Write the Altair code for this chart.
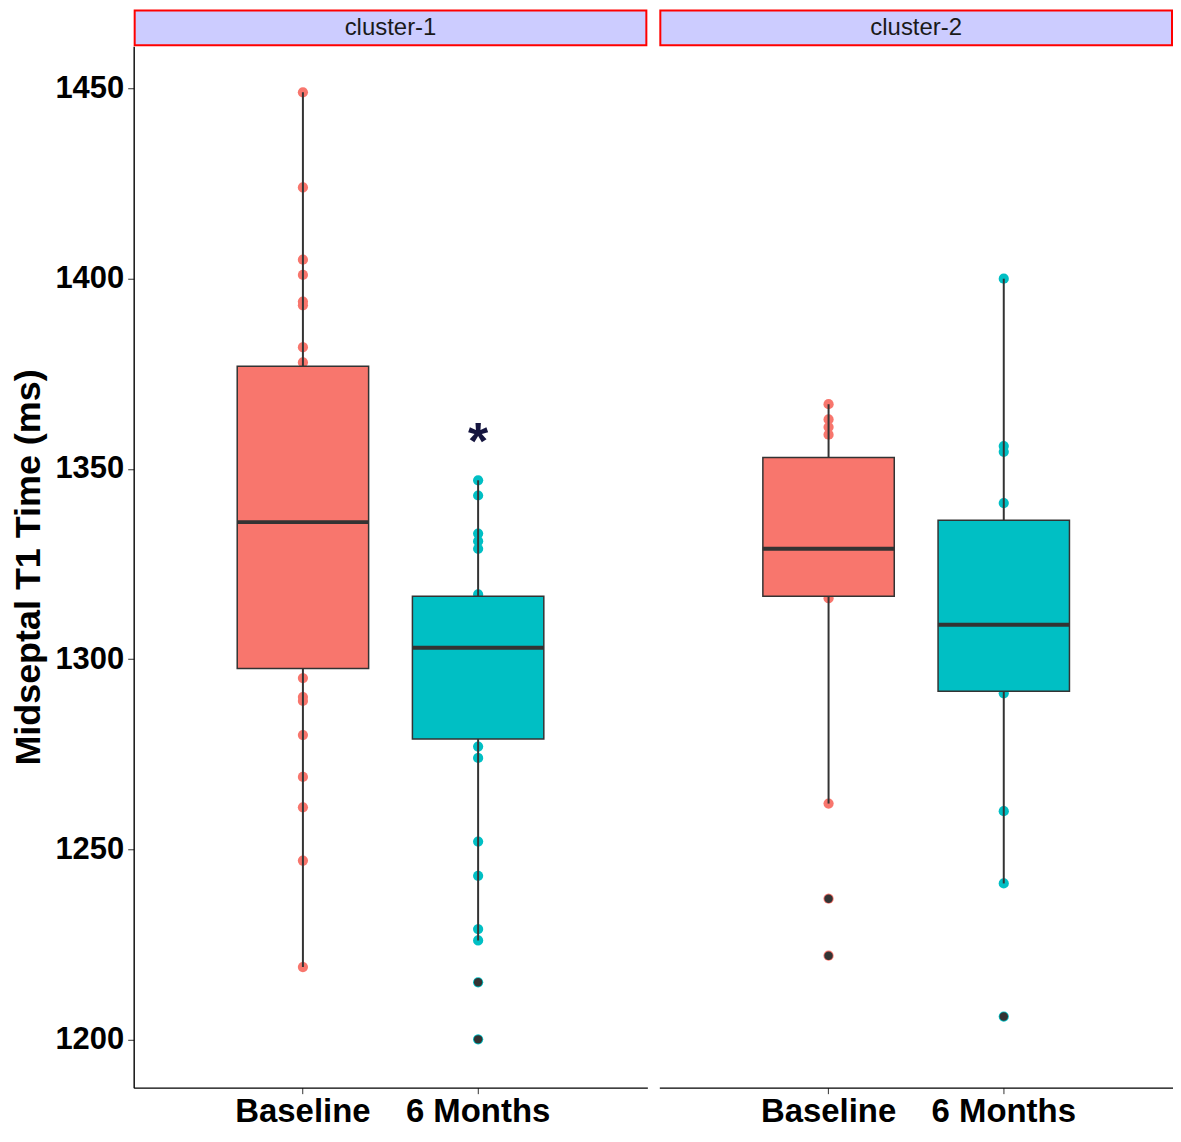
import altair as alt
import pandas as pd

FONT = "Liberation Sans"

clusters = ["cluster-1", "cluster-2"]
times = ["Baseline", "6 Months"]
fill_colors = ["#F8766D", "#00BFC4"]

# box summary statistics
box_cluster = ["cluster-1", "cluster-1", "cluster-2", "cluster-2"]
box_time = ["Baseline", "6 Months", "Baseline", "6 Months"]
box_lower = [1219, 1226, 1262, 1241]
box_q1 = [1297.5, 1279, 1316.5, 1291.5]
box_median = [1336, 1303, 1329, 1309]
box_q3 = [1377, 1316.5, 1353, 1336.5]
box_upper = [1449, 1347, 1367, 1400]

# individual observations
c1_baseline = [1449, 1424, 1405, 1401, 1394, 1393, 1382, 1378,
               1295, 1290, 1289, 1280, 1269, 1261, 1247, 1219]
c1_6months = [1347, 1343, 1333, 1331, 1329, 1317, 1277, 1274,
              1252, 1243, 1229, 1226, 1215, 1200]
c2_baseline = [1367, 1363, 1361, 1359, 1316, 1262, 1237, 1222]
c2_6months = [1400, 1356, 1354.5, 1341, 1291, 1260, 1241, 1206]

# boxplot outliers
out_cluster = ["cluster-1", "cluster-1", "cluster-2", "cluster-2", "cluster-2"]
out_time = ["6 Months", "6 Months", "Baseline", "Baseline", "6 Months"]
out_value = [1215, 1200, 1237, 1222, 1206]

# significance marker
star_cluster = ["cluster-1"]
star_time = ["6 Months"]
star_value = [1352.5]

y_domain = [1187.3, 1461.1]
y_ticks = [1200, 1250, 1300, 1350, 1400, 1450]

PW = 515
PH = 1044

boxes = pd.DataFrame({"cluster": box_cluster, "time": box_time, "lower": box_lower,
                      "q1": box_q1, "median": box_median, "q3": box_q3, "upper": box_upper})
rows = []
for cl, tm, vals in [("cluster-1", "Baseline", c1_baseline), ("cluster-1", "6 Months", c1_6months),
                     ("cluster-2", "Baseline", c2_baseline), ("cluster-2", "6 Months", c2_6months)]:
    for v in vals:
        rows.append({"cluster": cl, "time": tm, "value": v})
points = pd.DataFrame(rows)
outliers = pd.DataFrame({"cluster": out_cluster, "time": out_time, "value": out_value})
stars = pd.DataFrame({"cluster": star_cluster, "time": star_time, "value": star_value, "label": ["*"]})

color_scale = alt.Scale(domain=times, range=fill_colors)
x_scale = alt.Scale(domain=times, paddingInner=0, paddingOuter=0.466)
y_scale = alt.Scale(domain=y_domain, nice=False, zero=False)


def panel(cl, show_y):
    x_enc = alt.X("time:N", scale=x_scale, sort=times,
                  axis=alt.Axis(title=None, labelAngle=0, labelFont=FONT, labelFontSize=33,
                                labelFontWeight="bold", labelColor="black", labelPadding=2,
                                tickSize=6, tickColor="#333333", domainColor="black",
                                domainWidth=1.4))
    if show_y:
        y_axis = alt.Axis(title="Midseptal T1 Time (ms)", values=y_ticks, format="d", grid=False,
                          labelFont=FONT, labelFontSize=31, labelFontWeight="bold",
                          labelColor="black", labelPadding=4, tickSize=6, tickColor="#333333",
                          domainColor="black", domainWidth=1.4, titleFont=FONT,
                          titleFontSize=36, titleFontWeight="bold", titleColor="black",
                          titlePadding=7)
    else:
        y_axis = None

    pts = alt.Chart(points[points.cluster == cl]).mark_circle(size=105, opacity=1).encode(
        x=x_enc,
        y=alt.Y("value:Q", scale=y_scale, axis=y_axis),
        color=alt.Color("time:N", scale=color_scale, legend=None),
    )
    bsub = boxes[boxes.cluster == cl]
    whisk_hi = alt.Chart(bsub).mark_rule(color="#333333", strokeWidth=2).encode(
        x=x_enc, y=alt.Y("q3:Q", scale=y_scale), y2="upper:Q")
    whisk_lo = alt.Chart(bsub).mark_rule(color="#333333", strokeWidth=2).encode(
        x=x_enc, y=alt.Y("lower:Q", scale=y_scale), y2="q1:Q")
    box = alt.Chart(bsub).mark_bar(width=alt.RelativeBandSize(0.75), stroke="#333333",
                                   strokeWidth=1.5, opacity=1).encode(
        x=x_enc, y=alt.Y("q1:Q", scale=y_scale), y2="q3:Q",
        color=alt.Color("time:N", scale=color_scale, legend=None))
    med = alt.Chart(bsub).mark_tick(size=132, thickness=4, color="#333333", opacity=1).encode(
        x=x_enc, y=alt.Y("median:Q", scale=y_scale))
    outs = alt.Chart(outliers[outliers.cluster == cl]).mark_circle(
        size=72, color="#333333", opacity=1).encode(
        x=x_enc, y=alt.Y("value:Q", scale=y_scale))

    strip_df = pd.DataFrame({"label": [cl]})
    strip = alt.Chart(strip_df).mark_rect(fill="#CCCCFF", stroke="#FF0000", strokeWidth=2).encode(
        x=alt.value(1), x2=alt.value(PW - 1), y=alt.value(-36), y2=alt.value(-1))
    strip_txt = alt.Chart(strip_df).mark_text(font=FONT, fontSize=24, color="#1A1A1A",
                                              baseline="middle", align="center").encode(
        x=alt.value(PW / 2), y=alt.value(-18), text="label:N")

    layers = [pts, whisk_hi, whisk_lo, box, med, outs, strip, strip_txt]
    ssub = stars[stars.cluster == cl]
    if len(ssub):
        star = alt.Chart(ssub).mark_text(font=FONT, fontSize=52, fontWeight="bold",
                                         color="#15153F", baseline="alphabetic",
                                         align="center").encode(
            x=x_enc, y=alt.Y("value:Q", scale=y_scale), text="label:N")
        layers.append(star)
    return alt.layer(*layers).properties(width=PW, height=PH)


chart = alt.hconcat(panel("cluster-1", True), panel("cluster-2", False), spacing=12).resolve_scale(
    x="independent", y="independent", color="shared"
).properties(padding={"left": 3, "top": 0, "right": 0, "bottom": 0}).configure_view(
    stroke=None).configure_axis(grid=False)

chart.save("out.html", embed_options={"renderer": "svg", "actions": False})
